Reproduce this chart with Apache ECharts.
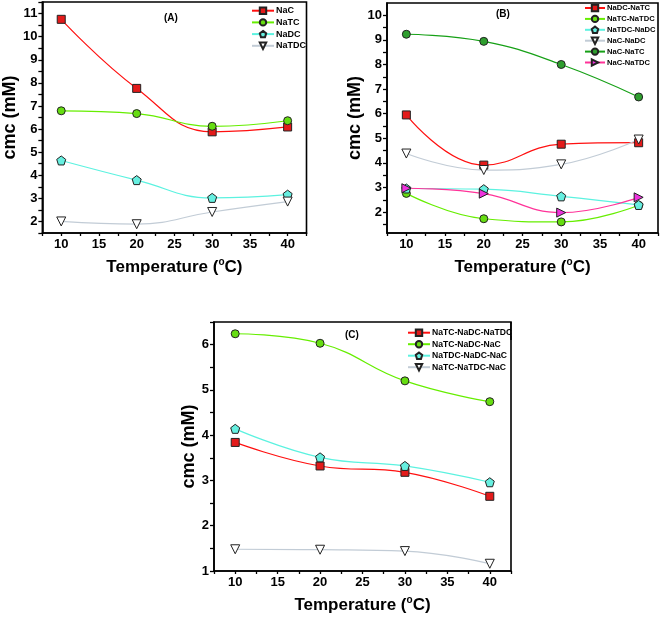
<!DOCTYPE html>
<html><head><meta charset="utf-8">
<script src="https://cdn.jsdelivr.net/npm/echarts@6/dist/echarts.min.js"></script>
<style>html,body{margin:0;padding:0;background:#fff}#c{width:661px;height:620px}</style>
</head><body><div id="c"></div>
<script>
// ---- data ----
const temps = [10, 20, 30, 40];
// Panel A
const namesA = ['NaC', 'NaTC', 'NaDC', 'NaTDC'];
const NaC = [10.75, 7.76, 5.88, 6.09];
const NaTC = [6.79, 6.67, 6.12, 6.36];
const NaDC = [4.64, 3.79, 3.02, 3.16];
const NaTDC = [2.0, 1.88, 2.41, 2.86];
// Panel B
const namesB = ['NaDC-NaTC', 'NaTC-NaTDC', 'NaTDC-NaDC', 'NaC-NaDC', 'NaC-NaTC', 'NaC-NaTDC'];
const NaDC_NaTC = [5.95, 3.91, 4.76, 4.82];
const NaTC_NaTDC = [2.76, 1.73, 1.60, 2.28];
const NaTDC_NaDC = [2.96, 2.93, 2.64, 2.29];
const NaC_NaDC = [4.38, 3.71, 3.94, 4.95];
const NaC_NaTC = [9.23, 8.94, 8.0, 6.68];
const NaC_NaTDC = [2.97, 2.75, 1.98, 2.60];
// Panel C
const namesC = ['NaTC-NaDC-NaTDC', 'NaTC-NaDC-NaC', 'NaTDC-NaDC-NaC', 'NaTC-NaTDC-NaC'];
const NaTC_NaDC_NaTDC = [3.84, 3.32, 3.18, 2.65];
const NaTC_NaDC_NaC = [6.24, 6.03, 5.20, 4.74];
const NaTDC_NaDC_NaC = [4.14, 3.51, 3.32, 2.96];
const NaTC_NaTDC_NaC = [1.48, 1.47, 1.44, 1.16];
// tick labels
const xTickLabels = [10, 15, 20, 25, 30, 35, 40];
const yTicksA = [2, 3, 4, 5, 6, 7, 8, 9, 10, 11];
const yTicksB = [2, 3, 4, 5, 6, 7, 8, 9, 10];
const yTicksC = [1, 2, 3, 4, 5, 6];

// ---- styles ----
const FONT = '"Liberation Sans", Arial, sans-serif';
const SQ = 'rect';
const CIR = 'circle';
const PENT = 'path://M5,0 L10,3.8 L8.1,10 L1.9,10 L0,3.8 Z';
const TDOWN = 'path://M0,0 L10,0 L5,9 Z';
const TRIGHT = 'path://M0,0 L9,5 L0,10 Z';

function pairs(arr) { return temps.map((t, i) => [t, arr[i]]); }
function mkSeries(name, arr, idx, lineColor, fill, symbol, size) {
  return {
    name, type: 'line', xAxisIndex: idx, yAxisIndex: idx, data: pairs(arr),
    smooth: 0.45, symbol, symbolSize: size || 8,
    lineStyle: { color: lineColor, width: 1.2 },
    itemStyle: { color: fill, borderColor: '#222', borderWidth: 1 },
    emphasis: { disabled: true }, z: 3
  };
}

const grids = [
  { left: 34.5, top: 2, width: 272, height: 231 },
  { left: 387, top: 3, width: 272, height: 230 },
  { left: 214, top: 322, width: 297, height: 249 }
];

function xAx(idx) {
  return {
    type: 'value', gridIndex: idx, min: 7.5, max: 42.5, interval: 2.5,
    axisLine: { lineStyle: { color: '#000', width: 1.6 } },
    axisTick: { length: 3, lineStyle: { color: '#000', width: 1.3 } },
    splitLine: { show: false },
    axisLabel: { margin: 5, color: '#000', fontFamily: FONT, fontWeight: 'bold', fontSize: 13,
      formatter: v => (xTickLabels.indexOf(v) >= 0 ? String(v) : '') },
    name: '{a|Temperature (}{s|o}{a|C)}', nameLocation: 'middle', nameGap: 24,
    nameTextStyle: { rich: {
      a: { fontFamily: FONT, fontWeight: 'bold', fontSize: 17, lineHeight: 20, color: '#000' },
      s: { fontFamily: FONT, fontWeight: 'bold', fontSize: 10, lineHeight: 11, color: '#000', verticalAlign: 'top' }
    } }
  };
}
function yAx(idx, min, max, ticks, nameGap) {
  const ax = {
    type: 'value', gridIndex: idx, min, max,
    axisLine: { show: true, lineStyle: { color: '#000', width: 1.6 } },
    axisTick: { show: true, length: 4, lineStyle: { color: '#000', width: 1.3 } },
    splitLine: { show: false },
    axisLabel: { margin: 5, color: '#000', fontFamily: FONT, fontWeight: 'bold', fontSize: 13 },
    name: 'cmc (mM)', nameLocation: 'middle', nameGap,
    nameTextStyle: { fontFamily: FONT, fontWeight: 'bold', fontSize: 18, color: '#000' }
  };
  if (idx === 1) {
    const t = [];
    for (let v = 1.5; v <= 10.01; v += 0.5) t.push(v);
    ax.axisTick.customValues = t;
    ax.axisLabel.customValues = ticks;
  } else {
    ax.interval = 0.5;
    ax.axisLabel.formatter = v => (ticks.indexOf(v) >= 0 ? String(v) : '');
  }
  return ax;
}

const series = [
  mkSeries('NaC', NaC, 0, '#ff1010', '#e31a1a', SQ, 8),
  mkSeries('NaTC', NaTC, 0, '#66ee00', '#66dd11', CIR, 8),
  mkSeries('NaDC', NaDC, 0, '#5cf2e0', '#66efe0', PENT, 9),
  mkSeries('NaTDC', NaTDC, 0, '#c2ccd6', '#ffffff', TDOWN, 9),

  mkSeries('NaDC-NaTC', NaDC_NaTC, 1, '#ff1010', '#e31a1a', SQ, 8),
  mkSeries('NaTC-NaTDC', NaTC_NaTDC, 1, '#66ee00', '#66dd11', CIR, 8),
  mkSeries('NaTDC-NaDC', NaTDC_NaDC, 1, '#5cf2e0', '#66efe0', PENT, 9),
  mkSeries('NaC-NaDC', NaC_NaDC, 1, '#c2ccd6', '#ffffff', TDOWN, 9),
  mkSeries('NaC-NaTC', NaC_NaTC, 1, '#16a016', '#2e9e2e', CIR, 8),
  mkSeries('NaC-NaTDC', NaC_NaTDC, 1, '#ff3399', '#ee33dd', TRIGHT, 9),

  mkSeries('NaTC-NaDC-NaTDC', NaTC_NaDC_NaTDC, 2, '#ff1010', '#e31a1a', SQ, 8),
  mkSeries('NaTC-NaDC-NaC', NaTC_NaDC_NaC, 2, '#66ee00', '#66dd11', CIR, 8),
  mkSeries('NaTDC-NaDC-NaC', NaTDC_NaDC_NaC, 2, '#5cf2e0', '#66efe0', PENT, 9),
  mkSeries('NaTC-NaTDC-NaC', NaTC_NaTDC_NaC, 2, '#c2ccd6', '#ffffff', TDOWN, 9)
];

function leg(names, left, top, fs, lh, gap, iw) {
  return {
    data: names, orient: 'vertical', left, top, itemWidth: iw, itemHeight: 8, itemGap: gap,
    padding: 0, selectedMode: false,
    textStyle: { fontFamily: FONT, fontWeight: 'bold', fontSize: fs, lineHeight: lh, color: '#000', padding: [0, 0, 0, -3] }
  };
}

const option = {
  animation: false,
  backgroundColor: '#fff',
  grid: grids.map(g => Object.assign({ show: true, borderColor: '#000', borderWidth: 1.6, backgroundColor: 'transparent' }, g)),
  xAxis: [xAx(0), xAx(1), xAx(2)],
  yAxis: [yAx(0, 1.5, 11.5, yTicksA, 12), yAx(1, 1.15, 10.5, yTicksB, 12), yAx(2, 1, 6.5, yTicksC, 14)],
  legend: [
    leg(namesA, 251, 5.7, 9, 10, 1.7, 22),
    leg(namesB, 584, 3.5, 7.6, 9, 1.9, 20),
    leg(namesC, 407, 327.7, 8.6, 10, 1.5, 22)
  ],
  series,
  graphic: [
    { type: 'text', left: 164, top: 13, style: { text: '(A)', fontFamily: FONT, fontWeight: 'bold', fontSize: 10, fill: '#000' } },
    { type: 'text', left: 496, top: 9, style: { text: '(B)', fontFamily: FONT, fontWeight: 'bold', fontSize: 10, fill: '#000' } },
    { type: 'text', left: 345, top: 330, style: { text: '(C)', fontFamily: FONT, fontWeight: 'bold', fontSize: 10, fill: '#000' } },
    { type: 'rect', shape: { x: 511.8, y: 324, width: 20, height: 12 }, style: { fill: '#fff' }, z: 100 },
    { type: 'line', shape: { x1: 511, y1: 322, x2: 511, y2: 340 }, style: { stroke: '#000', lineWidth: 1.6 }, z: 101 }
  ]
};
echarts.init(document.getElementById('c')).setOption(option);
</script></body></html>
